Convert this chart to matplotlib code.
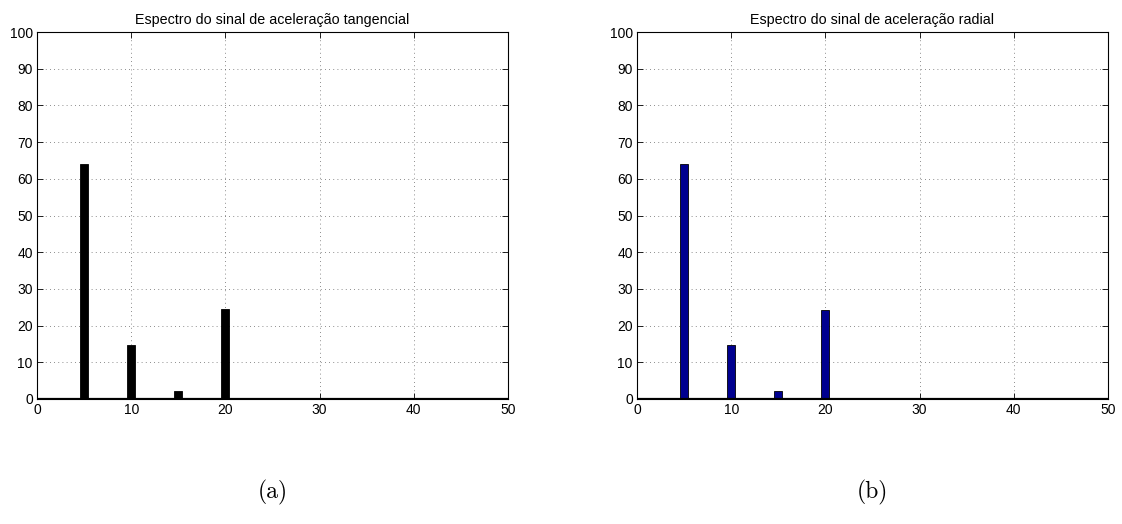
import matplotlib
matplotlib.use("Agg")
import matplotlib.pyplot as plt

freqs = [5, 10, 15, 20]
amp_tangencial = [64.0, 14.7, 2.2, 24.4]
amp_radial = [64.0, 14.7, 2.2, 24.3]
titles = ["Espectro do sinal de aceleração tangencial",
          "Espectro do sinal de aceleração radial"]
captions = ["(a)", "(b)"]
xticks = [0, 10, 20, 30, 40, 50]
yticks = [0, 10, 20, 30, 40, 50, 60, 70, 80, 90, 100]

plt.rcParams['font.family'] = ['Liberation Sans', 'DejaVu Sans']
plt.rcParams['axes.unicode_minus'] = False

fig = plt.figure(figsize=(11.22, 5.24), dpi=100)
lefts = [37 / 1122, 637 / 1122]
colors = ["black", "#00008f"]
datasets = [amp_tangencial, amp_radial]

for i in range(2):
    ax = fig.add_axes([lefts[i], 1 - 399 / 524, 471 / 1122, 367 / 524])
    ax.bar(freqs, datasets[i], width=0.85, color=colors[i],
           edgecolor="black", linewidth=0.6, zorder=3)
    ax.set_xlim(0, 50)
    ax.set_ylim(0, 100)
    ax.set_xticks(xticks)
    ax.set_yticks(yticks)
    ax.tick_params(direction="in", top=True, right=True, length=4,
                   labelsize=10, width=0.6, pad=3)
    ax.grid(True, linestyle=(0, (1, 4)), color="black", linewidth=0.6, alpha=0.6)
    for s in ax.spines.values():
        s.set_linewidth(0.8)
    ax.axhline(0, color="black", linewidth=1.6, zorder=4)
    ax.set_title(titles[i], fontsize=10.3, pad=6)
    fig.text(lefts[i] + 471 / 1122 / 2, 1 - 492 / 524, captions[i],
             ha="center", va="center", fontsize=17, family=["cmr10", "DejaVu Serif"])

fig.savefig("out.png", dpi=100)
